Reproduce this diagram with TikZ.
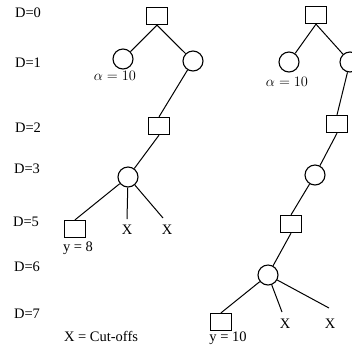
\documentclass[tikz,border=0pt]{standalone}
\usepackage{fontspec}
\newfontfamily\tms{Liberation Serif}
\begin{document}
\begin{tikzpicture}[x=1pt,y=-1pt,
  sq/.style={draw,line width=1.3pt,minimum width=21pt,minimum height=17pt,inner sep=0pt},
  ci/.style={draw,circle,line width=1.1pt,minimum size=20pt,inner sep=0pt},
  edge/.style={line width=1pt},
  lab/.style={font=\tms\fontsize{14.5}{16}\selectfont,inner sep=0pt},
  mlab/.style={font=\fontsize{14.5}{16}\selectfont,inner sep=0pt}]
\useasboundingbox (0,0) rectangle (352,349);
\clip (0,0) rectangle (352,349);
% depth labels
\node[lab] (d0) at (28,13) {D=0};
\node[lab] (d1) at (28,63) {D=1};
\node[lab] (d2) at (28,128) {D=2};
\node[lab] (d3) at (27,169) {D=3};
\node[lab] (d5) at (26,222) {D=5};
\node[lab] (d6) at (27,267) {D=6};
\node[lab] (d7) at (27,314) {D=7};
\node[lab] (legend) at (101,336) {X = Cut-offs};
% left tree
\node[sq] (a0) at (157,16) {};
\node[ci] (a1) at (123,59) {};
\node[ci] (a2) at (193,61) {};
\node[sq] (a3) at (159,126) {};
\node[ci] (a4) at (128,177) {};
\node[sq] (a5) at (75,229) {};
\coordinate (ax1) at (127,219);
\coordinate (ax2) at (163,218);
\node[lab] (ax1l) at (127,230) {X};
\node[lab] (ax2l) at (167,230) {X};
\node[mlab] (alpha1) at (115,76) {$\alpha = 10$};
\node[lab] (y8) at (78,248) {y = 8};
\draw[edge] (a0.south) -- (a1);
\draw[edge] (a0.south) -- (a2);
\draw[edge] (a2) -- (a3.north);
\draw[edge] (a3.south) -- (a4);
\draw[edge] (a4) -- (a5.north);
\draw[edge] (a4) -- (ax1);
\draw[edge] (a4) -- (ax2);
% right tree
\node[sq] (b0) at (316,15) {};
\node[ci] (b1) at (289,62) {};
\node[ci] (b2) at (350,62) {};
\node[sq] (b3) at (337,124) {};
\node[ci] (b4) at (315,175) {};
\node[sq] (b5) at (291,224) {};
\node[ci] (b6) at (268,275) {};
\node[sq] (b7) at (221,322) {};
\coordinate (bx1) at (282,312);
\coordinate (bx2) at (329,308);
\node[lab] (bx1l) at (285,324) {X};
\node[lab] (bx2l) at (330,324) {X};
\node[mlab] (alpha2) at (287,82) {$\alpha = 10$};
\node[lab] (y10) at (228,338) {y = 10};
\draw[edge] (b0.south) -- (b1);
\draw[edge] (b0.south) -- (b2);
\draw[edge] (b2) -- (b3.north);
\draw[edge] (b3.south) -- (b4);
\draw[edge] (b4) -- (b5.north);
\draw[edge] (b5.south) -- (b6);
\draw[edge] (b6) -- (b7.north);
\draw[edge] (b6) -- (bx1);
\draw[edge] (b6) -- (bx2);
\end{tikzpicture}
\end{document}
